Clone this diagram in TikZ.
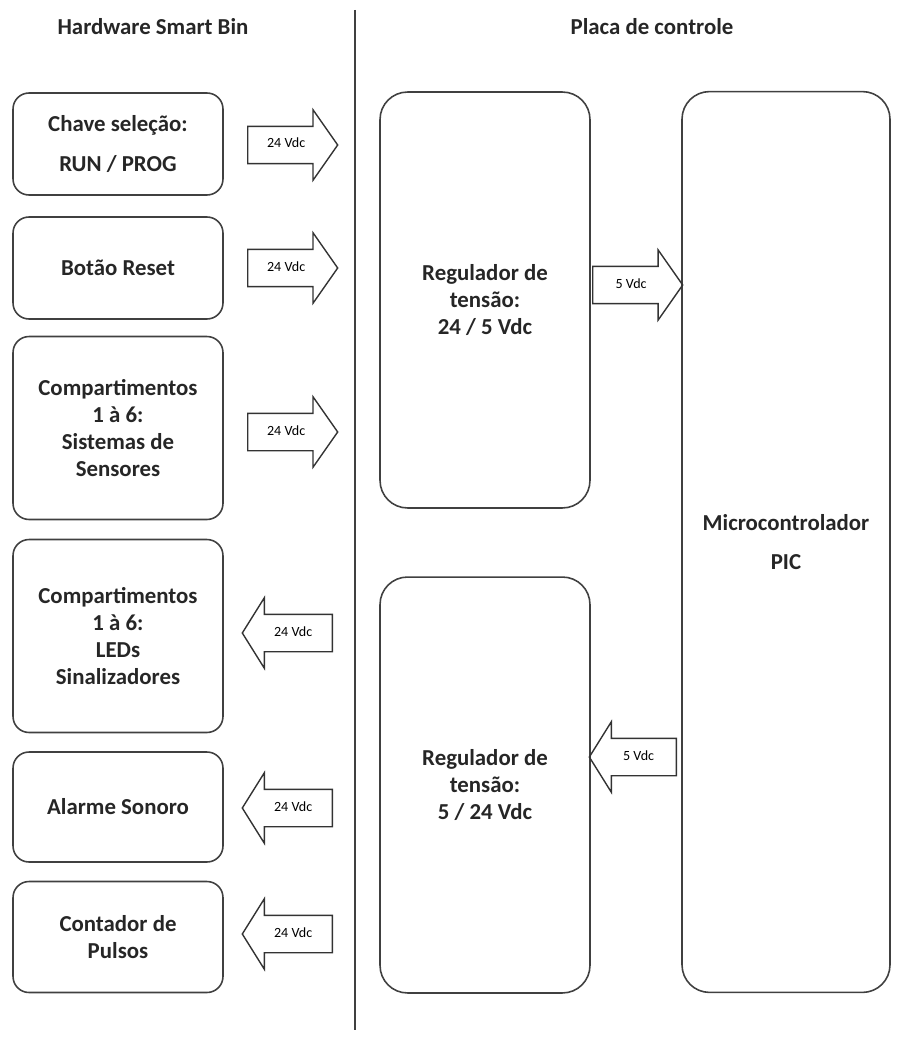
\documentclass[tikz,border=0pt]{standalone}
\usepackage{fontspec}
\setmainfont{Carlito}
\usetikzlibrary{shapes.arrows}

\begin{document}
\begin{tikzpicture}[x=0.02cm, y=-0.02cm,
    block/.style={draw=black!75, line width=0.9pt, rounded corners=0.32cm, minimum width=4.2cm, align=center, text=black!85, font=\fontsize{13}{15.5}\selectfont\bfseries},
    bigblock/.style={block, rounded corners=0.55cm},
    volt/.style={single arrow, draw=black!80, line width=0.8pt, anchor=tail, font=\fontsize{8}{9}\selectfont, text height=1.6mm, text depth=0.4mm, inner ysep=0.26cm, inner xsep=0.2cm, single arrow head extend=0.33cm, minimum height=1.8cm},
    voltin/.style={volt, single arrow tip angle=110},
    voltout/.style={volt, shape border rotate=180, single arrow tip angle=116}]
    \useasboundingbox (0,0) rectangle (899,1037);

    \node[font=\fontsize{13}{15}\selectfont\bfseries, text=black!85] (hwtitle) at (153,27) {Hardware Smart Bin};
    \node[font=\fontsize{13}{15}\selectfont\bfseries, text=black!85] (pctitle) at (652,27) {Placa de controle};
    \coordinate (divtop) at (355,10);
    \coordinate (divbot) at (355,1030);
    \draw[black!75, line width=1pt] (divtop) -- (divbot);

    \node[block, minimum height=2.04cm] (chave) at (118,144) {Chave seleção:\\[0.24cm] RUN / PROG};
    \node[block, minimum height=2.04cm] (reset) at (118,268) {Botão Reset};
    \node[block, minimum height=3.66cm] (sensores) at (118,428) {Compartimentos\\ 1 à 6:\\ Sistemas de\\ Sensores};
    \node[block, minimum height=3.86cm] (leds) at (118,636) {Compartimentos\\ 1 à 6:\\ LEDs\\ Sinalizadores};
    \node[block, minimum height=2.2cm] (alarme) at (118,807) {Alarme Sonoro};
    \node[block, minimum height=2.22cm] (pulsos) at (118,937) {Contador de\\ Pulsos};

    \node[bigblock, minimum height=8.32cm] (reg1) at (485,300) {Regulador de\\ tensão:\\ 24 / 5 Vdc};
    \node[bigblock, minimum height=8.32cm] (reg2) at (485,785) {Regulador de\\ tensão:\\ 5 / 24 Vdc};
    \node[bigblock, minimum width=4.16cm, minimum height=18.02cm] (pic) at (786,542) {Microcontrolador\\[0.24cm] PIC};

    \node[voltin] (vchave) at (247,145) {24 Vdc};
    \node[voltin] (vreset) at (247,268) {24 Vdc};
    \node[voltin] (vsens) at (247,432) {24 Vdc};
    \node[voltout] (vleds) at (333,633) {24 Vdc};
    \node[voltout] (valarme) at (333,808) {24 Vdc};
    \node[voltout] (vpulsos) at (333,934) {24 Vdc};

    \node[voltin] (vreg1) at (592,285) {5 Vdc};
    \node[voltout, minimum height=1.74cm] (vreg2) at (677,757) {5 Vdc};
\end{tikzpicture}
\end{document}
